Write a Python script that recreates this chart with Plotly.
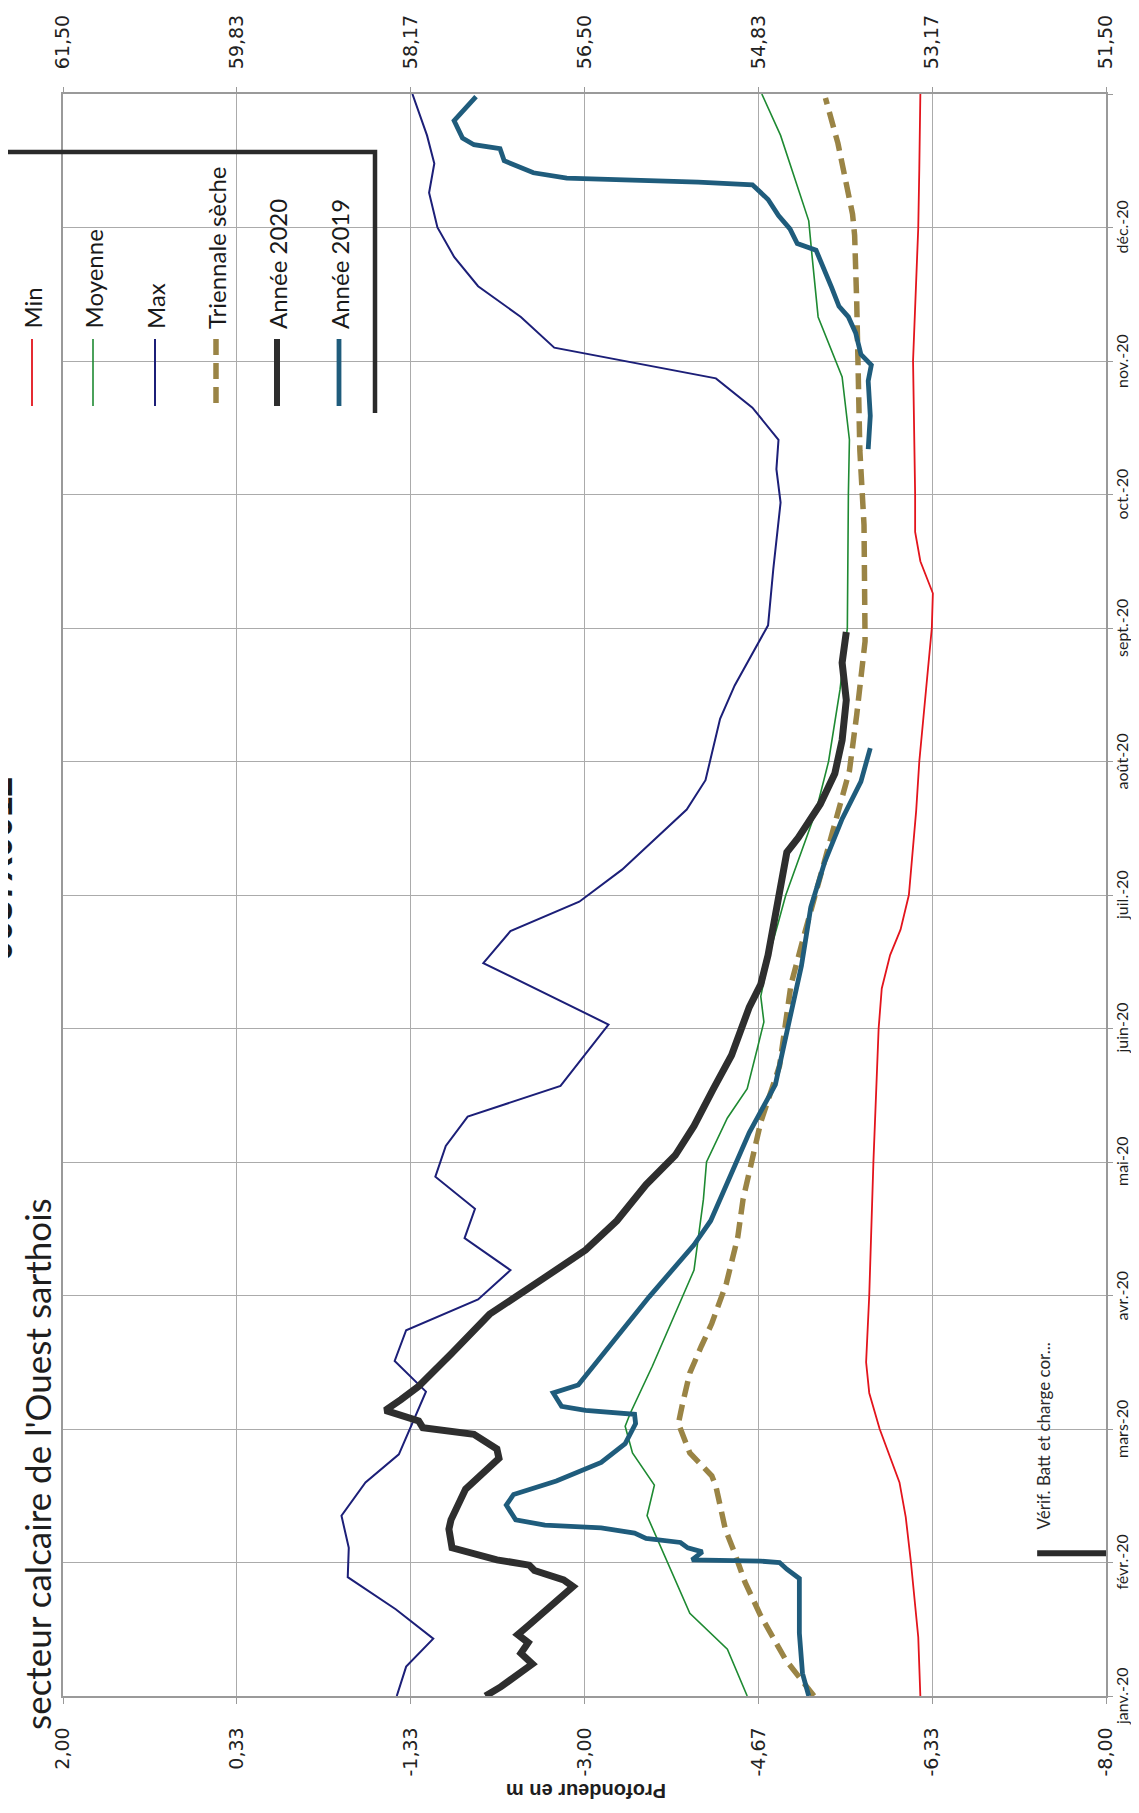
import plotly.graph_objects as go

# ---------------- data (month position: 0 = 1 Jan 2020, 12 = 1 Jan 2021) ----------------
month_labels = ["janv.-20", "févr.-20", "mars-20", "avr.-20", "mai-20", "juin-20",
                "juil.-20", "août-20", "sept.-20", "oct.-20", "nov.-20", "déc.-20"]
month_ticks = list(range(13))

depth_ticks = [2.0, 0.333, -1.333, -3.0, -4.667, -6.333, -8.0]
depth_ticktext = ["2,00", "0,33", "-1,33", "-3,00", "-4,67", "-6,33", "-8,00"]
ngf_ticks = [61.5, 59.833, 58.167, 56.5, 54.833, 53.167, 51.5]
ngf_ticktext = ["61,50", "59,83", "58,17", "56,50", "54,83", "53,17", "51,50"]

min_m = [0.00, 0.44, 1.00, 1.34, 1.60, 2.00, 2.27, 2.50, 3.00, 3.72, 4.00, 5.00, 5.30,
         5.55, 5.74, 6.00, 6.63, 7.00, 7.75, 8.00, 8.26, 8.50, 8.72, 9.00, 10.00, 11.00,
         11.44, 12.00]
min_d = [-6.22, -6.20, -6.13, -6.08, -6.02, -5.83, -5.73, -5.70, -5.73, -5.76, -5.77,
         -5.82, -5.85, -5.93, -6.03, -6.11, -6.18, -6.21, -6.30, -6.33, -6.34, -6.22,
         -6.17, -6.17, -6.15, -6.20, -6.21, -6.22]

moy_m = [0.00, 0.35, 0.62, 1.00, 1.35, 1.58, 1.82, 2.02, 2.12, 2.47, 3.19, 3.72, 4.00,
         4.33, 4.55, 4.86, 5.05, 5.24, 5.55, 5.80, 6.00, 6.63, 7.00, 7.54, 8.00, 9.00,
         9.41, 9.88, 10.33, 10.80, 11.05, 11.69, 12.00]
moy_d = [-4.56, -4.37, -4.01, -3.80, -3.60, -3.67, -3.46, -3.39, -3.44, -3.65, -4.05,
         -4.14, -4.17, -4.37, -4.56, -4.66, -4.72, -4.69, -4.77, -4.86, -4.93, -5.22,
         -5.34, -5.45, -5.52, -5.53, -5.54, -5.47, -5.24, -5.18, -5.15, -4.88, -4.70]

max_m = [0.00, 0.22, 0.43, 0.65, 0.89, 1.11, 1.35, 1.60, 1.81, 2.28, 2.51, 2.74, 2.97,
         3.19, 3.43, 3.65, 3.89, 4.12, 4.34, 4.57, 5.03, 5.49, 5.73, 5.95, 6.19, 6.64,
         6.86, 7.32, 7.57, 8.02, 8.44, 8.94, 9.19, 9.41, 9.65, 9.87, 10.10, 10.33, 10.56,
         10.78, 11.00, 11.26, 11.48, 11.69, 12.00]
max_d = [-1.20, -1.29, -1.55, -1.19, -0.73, -0.74, -0.67, -0.90, -1.22, -1.48, -1.18,
         -1.29, -1.98, -2.29, -1.85, -1.95, -1.57, -1.67, -1.88, -2.77, -3.23, -2.03,
         -2.29, -2.95, -3.36, -3.98, -4.16, -4.30, -4.44, -4.76, -4.81, -4.88, -4.84,
         -4.86, -4.61, -4.26, -2.71, -2.39, -1.98, -1.75, -1.59, -1.51, -1.56, -1.49,
         -1.35]

tri_m = [0.00, 0.27, 0.60, 0.85, 1.07, 1.25, 1.57, 1.65, 1.82, 1.97, 2.04, 2.19, 2.42,
         2.62, 2.79, 3.09, 3.44, 3.72, 4.30, 4.72, 5.33, 5.74, 6.13, 6.55, 6.93, 7.35,
         7.90, 8.77, 9.33, 10.44, 10.94, 11.10, 11.38, 11.63, 11.97]
tri_d = [-5.20, -4.93, -4.69, -4.54, -4.44, -4.35, -4.26, -4.22, -4.01, -3.94, -3.90,
         -3.94, -4.01, -4.12, -4.22, -4.36, -4.47, -4.52, -4.69, -4.87, -4.98, -5.12,
         -5.26, -5.40, -5.54, -5.61, -5.69, -5.68, -5.64, -5.61, -5.59, -5.57, -5.50,
         -5.43, -5.31]

y2020_m = [0.00, 0.07, 0.24, 0.32, 0.40, 0.46, 0.52, 0.62, 0.82, 0.87, 0.94, 0.98, 1.02,
           1.11, 1.25, 1.32, 1.55, 1.78, 1.85, 1.96, 2.01, 2.06, 2.14, 2.22, 2.32, 2.57,
           2.86, 3.13, 3.34, 3.56, 3.83, 4.05, 4.27, 4.54, 4.80, 5.16, 5.33, 5.55, 5.85,
           6.07, 6.32, 6.43, 6.68, 6.91, 7.16, 7.46, 7.74, 7.97]
y2020_d = [-2.05, -2.20, -2.50, -2.39, -2.46, -2.36, -2.45, -2.59, -2.89, -2.80, -2.52,
           -2.47, -2.16, -1.73, -1.70, -1.72, -1.86, -2.18, -2.16, -1.94, -1.45, -1.41,
           -1.09, -1.24, -1.41, -1.73, -2.09, -2.61, -3.01, -3.31, -3.59, -3.87, -4.05,
           -4.23, -4.41, -4.58, -4.69, -4.76, -4.83, -4.89, -4.94, -5.05, -5.26, -5.40,
           -5.47, -5.51, -5.47, -5.51]

y2019_m = [0.00, 0.17, 0.47, 0.88, 0.95, 1.00, 1.01, 1.02, 1.08, 1.11, 1.15, 1.18, 1.22,
           1.26, 1.28, 1.32, 1.43, 1.51, 1.61, 1.75, 1.89, 2.04, 2.11, 2.14, 2.17, 2.27,
           2.33, 2.54, 2.99, 3.38, 3.56, 4.22, 4.58, 5.08, 5.47, 5.91, 6.24, 6.57, 6.85,
           7.10, None, 9.34, 9.59, 9.85, 9.97, 10.05, 10.21, 10.33, 10.41, 10.55, 10.69,
           10.83, 10.88, 10.99, 11.09, 11.21, 11.32, 11.34, 11.37, 11.41, 11.50, 11.59,
           11.62, 11.67, 11.80, 11.86, 11.98]
y2019_d = [-5.15, -5.09, -5.06, -5.06, -4.94, -4.87, -4.69, -4.03, -4.13, -3.99, -3.92,
           -3.59, -3.48, -3.16, -2.62, -2.34, -2.25, -2.32, -2.73, -3.16, -3.39, -3.49,
           -3.48, -3.01, -2.78, -2.70, -2.94, -3.16, -3.62, -4.05, -4.21, -4.58, -4.83,
           -4.97, -5.08, -5.17, -5.30, -5.47, -5.65, -5.74, None, -5.72, -5.74, -5.72,
           -5.75, -5.65, -5.60, -5.53, -5.44, -5.37, -5.29, -5.22, -5.04, -4.97, -4.86,
           -4.76, -4.61, -4.09, -2.83, -2.51, -2.23, -2.19, -1.94, -1.83, -1.75, -1.82,
           -1.96]

event_m = [1.07, 1.07]
event_d = [-7.34, -8.0]
event_label = "Vérif. Batt et charge cor..."

series_names = ["Min", "Moyenne", "Max", "Triennale sèche", "Année 2020", "Année 2019"]
series_colors = ["#e3141c", "#1e8a32", "#1c1f78", "#9a8445", "#2e2e2e", "#1f5c7c"]
series_widths = [1.8, 1.6, 2.0, 5.5, 7.0, 4.8]
series_dash = ["solid", "solid", "solid", "16px,8px", "solid", "solid"]
series_data = [(min_m, min_d), (moy_m, moy_d), (max_m, max_d), (tri_m, tri_d),
               (y2020_m, y2020_d), (y2019_m, y2019_d)]

# ---------------- layout geometry (pixels) ----------------
# the page body has an 8 px margin, so the figure is drawn 8 px smaller and
# every page position below is given in page pixels and shifted by OFF.
OFF = 8
W, H = 1139 - 2 * OFF, 1813 - 2 * OFF
PLOT_L, PLOT_R, PLOT_T, PLOT_B = 63, 1106, 94, 1696      # page pixels
L, T = PLOT_L - OFF, PLOT_T - OFF
R, B = W - (PLOT_R - OFF), H - (PLOT_B - OFF)
PW, PH = W - L - R, H - T - B


def px(x):
    return (x - OFF - L) / PW


def py(y):
    return (H - B - (y - OFF)) / PH


fig = go.Figure()

for (m, d), name, col, wd, ds in zip(series_data, series_names, series_colors,
                                      series_widths, series_dash):
    fig.add_trace(go.Scatter(x=d, y=m, mode="lines", name=name, showlegend=False,
                             connectgaps=False,
                             line=dict(color=col, width=wd, dash=ds)))

# event marker
fig.add_trace(go.Scatter(x=event_d, y=event_m, mode="lines", showlegend=False,
                         line=dict(color="#2b2b2b", width=6)))

# trace bound to the NGF (top) axis so that it is drawn
fig.add_trace(go.Scatter(x=[ngf_ticks[0], ngf_ticks[-1]], y=[None, None], xaxis="x2",
                         mode="lines", showlegend=False, hoverinfo="skip"))

grid = "#ababab"
fig.update_layout(
    width=W, height=H,
    margin=dict(l=L, r=R, t=T, b=B, autoexpand=False),
    paper_bgcolor="white", plot_bgcolor="white",
    showlegend=False,
    xaxis=dict(range=[2, -8], tickvals=depth_ticks, ticktext=depth_ticktext,
               tickangle=-90, tickfont=dict(family="DejaVu Sans", size=19, color="#222"),
               showgrid=True, gridcolor=grid, gridwidth=1.2, zeroline=False,
               showline=True, mirror=True, linecolor="#9a9a9a", linewidth=1.5,
               ticks="outside", ticklen=6, tickcolor="#9a9a9a",
               ticklabelstandoff=16, automargin=False, fixedrange=True),
    xaxis2=dict(overlaying="x", side="top", range=[61.5, 51.5], tickvals=ngf_ticks,
                ticktext=ngf_ticktext, tickangle=-90,
                tickfont=dict(family="DejaVu Sans", size=19, color="#222"),
                showgrid=False, zeroline=False, ticks="outside", ticklen=6,
                tickcolor="#9a9a9a", ticklabelstandoff=14, automargin=False),
    yaxis=dict(range=[0, 12], tickvals=month_ticks, side="right", showticklabels=False,
               showgrid=True, gridcolor=grid, gridwidth=1.2, zeroline=False,
               showline=True, mirror=True, linecolor="#9a9a9a", linewidth=1.5,
               ticks="outside", ticklen=5, tickcolor="#9a9a9a", automargin=False),
)

# ---------------- texts ----------------
ann = []
# month labels (rotated, reading upwards, right of the plot)
for i, lab in enumerate(month_labels):
    ann.append(dict(text=lab, x=px(1121), y=month_ticks[i], xref="paper", yref="y",
                    xanchor="center", yanchor="middle", textangle=-90, showarrow=False,
                    font=dict(family="Lato", size=16, color="#1e1e1e")))

ann.append(dict(text="secteur calcaire de l'Ouest sarthois", x=px(37), y=py(1732),
                xref="paper", yref="paper", xanchor="center", yanchor="bottom",
                textangle=-90, showarrow=False,
                font=dict(family="Lato", size=35, color="#1e1e1e")))
ann.append(dict(text="<b>0037X0012</b>", x=px(-1), y=py(963),
                xref="paper", yref="paper", xanchor="center", yanchor="bottom",
                textangle=-90, showarrow=False,
                font=dict(family="Liberation Sans", size=36, color="#1a1a1a")))
ann.append(dict(text="<b>Profondeur en m</b>", x=px(586), y=py(1791),
                xref="paper", yref="paper", xanchor="center", yanchor="middle",
                textangle=180, showarrow=False,
                font=dict(family="Liberation Sans", size=20, color="#1e1e1e")))
ann.append(dict(text=event_label, x=px(1043), y=py(1532),
                xref="paper", yref="paper", xanchor="center", yanchor="bottom",
                textangle=-90, showarrow=False,
                font=dict(family="Lato", size=17, color="#2a2a2a")))

# ---------------- hand-built rotated legend ----------------
leg_x = [32, 93, 155, 216, 277, 339]
shapes = []
for xc, name, col, wd, ds in zip(leg_x, series_names, series_colors, series_widths,
                                 series_dash):
    shapes.append(dict(type="line", xref="paper", yref="paper",
                       x0=px(xc), x1=px(xc), y0=py(339), y1=py(406),
                       line=dict(color=col, width=min(wd, 6), dash=ds)))
    ann.append(dict(text=name, x=px(xc), y=py(331), xref="paper", yref="paper",
                    xanchor="center", yanchor="bottom", textangle=-90,
                    showarrow=False, font=dict(family="Lato", size=24, color="#1a1a1a")))

shapes.append(dict(type="path", xref="paper", yref="paper",
                   path=f"M {px(7)},{py(152)} L {px(375)},{py(152)} L {px(375)},{py(413)}",
                   line=dict(color="#2a2a2a", width=4.5)))

fig.update_layout(annotations=ann, shapes=shapes)

fig.write_html("out.html")
